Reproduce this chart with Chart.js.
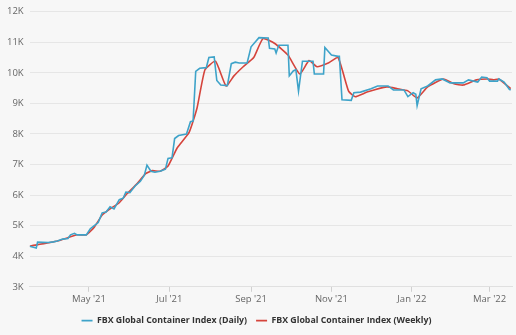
<!DOCTYPE html>
<html>
<head>
<meta charset="utf-8">
<script src="https://cdn.jsdelivr.net/npm/chart.js@4.4.1/dist/chart.umd.min.js"></script>
<style>
  html, body { margin: 0; padding: 0; background: #f7f7f7; }
  #wrap { width: 516px; height: 335px; }
</style>
</head>
<body>
<div id="wrap"><canvas id="chart"></canvas></div>
<script>
// daily index at each step change
const dailyDates = ['2021-03-17','2021-03-22','2021-03-23','2021-03-31','2021-04-04','2021-04-07','2021-04-11','2021-04-15','2021-04-17','2021-04-20','2021-04-22','2021-04-29',
  '2021-05-02','2021-05-05','2021-05-08','2021-05-11','2021-05-14','2021-05-17','2021-05-20','2021-05-24','2021-05-27','2021-05-29',
  '2021-06-01','2021-06-05','2021-06-09','2021-06-12','2021-06-14','2021-06-17','2021-06-20','2021-06-24','2021-06-28','2021-06-30',
  '2021-07-03','2021-07-05','2021-07-08','2021-07-14','2021-07-17','2021-07-19','2021-07-21','2021-07-24','2021-07-29','2021-07-31',
  '2021-08-04','2021-08-06','2021-08-09','2021-08-14','2021-08-17','2021-08-20','2021-08-23','2021-08-29',
  '2021-09-01','2021-09-04','2021-09-07','2021-09-14','2021-09-15','2021-09-19','2021-09-20','2021-09-22','2021-09-29','2021-09-30',
  '2021-10-03','2021-10-05','2021-10-07','2021-10-10','2021-10-18','2021-10-19','2021-10-26','2021-10-27',
  '2021-11-01','2021-11-06','2021-11-07','2021-11-09','2021-11-16','2021-11-18','2021-11-23',
  '2021-12-01','2021-12-06','2021-12-14','2021-12-18','2021-12-26','2021-12-29',
  '2022-01-02','2022-01-04','2022-01-05','2022-01-08','2022-01-13','2022-01-19','2022-01-24','2022-01-30',
  '2022-02-09','2022-02-13','2022-02-20','2022-02-23','2022-02-27',
  '2022-03-01','2022-03-07','2022-03-08','2022-03-12','2022-03-16','2022-03-17'];
const dailyValues = [4330,4270,4460,4450,4470,4500,4560,4580,4700,4750,4700,4700,
  4900,5000,5100,5420,5450,5620,5550,5850,5900,6100,
  6080,6300,6450,6650,6980,6780,6750,6780,6850,7200,
  7220,7850,7950,8000,8400,8420,10050,10150,10170,10500,
  10520,9750,9600,9580,10300,10350,10320,10320,
  10850,11000,11150,11140,10800,10780,10650,10900,10900,9900,
  10060,10100,9400,10380,10380,9960,9960,10830,
  10580,10540,10540,9120,9100,9350,9370,
  9480,9570,9570,9440,9440,9220,
  9350,9300,8930,9480,9570,9770,9800,9670,
  9670,9770,9700,9860,9840,
  9730,9730,9800,9700,9460,9440];

// weekly index
const weeklyDates = ['2021-03-17','2021-04-07','2021-04-22','2021-04-29','2021-05-05','2021-05-11','2021-05-17','2021-05-24','2021-05-30',
  '2021-06-06','2021-06-13','2021-06-18','2021-06-24','2021-06-30','2021-07-07','2021-07-16','2021-07-22','2021-07-28',
  '2021-08-05','2021-08-13','2021-08-19','2021-08-26','2021-09-03','2021-09-10','2021-09-19','2021-09-29',
  '2021-10-08','2021-10-15','2021-10-21','2021-10-30','2021-11-06','2021-11-14','2021-11-19','2021-11-28',
  '2021-12-13','2021-12-21','2021-12-29','2022-01-05','2022-01-13','2022-01-25','2022-02-02','2022-02-09',
  '2022-02-19','2022-02-27','2022-03-04','2022-03-08','2022-03-17'];
const weeklyValues = [4330,4500,4700,4700,4950,5350,5550,5750,6050,
  6350,6700,6800,6780,6950,7550,8050,8850,10100,
  10380,9570,9900,10200,10500,11120,10960,10580,
  9960,10400,10200,10330,10500,9400,9220,9370,
  9540,9480,9410,9180,9540,9800,9640,9600,
  9770,9800,9770,9800,9480];

const xTickDates = ['2021-05-01','2021-07-01','2021-09-01','2021-11-01','2022-01-01','2022-03-01'];
const xTickLabels = ["May '21","Jul '21","Sep '21","Nov '21","Jan '22","Mar '22"];
const yTicks = [3000,4000,5000,6000,7000,8000,9000,10000,11000,12000];

const seriesNames = ['FBX Global Container Index (Daily)','FBX Global Container Index (Weekly)'];

// days since 1 Jan 2021
function dayNum(s) {
  var p = s.split('-');
  return (Date.UTC(+p[0], +p[1]-1, +p[2]) - Date.UTC(2021,0,1)) / 86400000;
}
function toPoints(dates, values) {
  return dates.map(function(d, i){ return {x: dayNum(d), y: values[i]}; });
}

var tickPos = xTickDates.map(dayNum);

new Chart(document.getElementById('chart'), {
  type: 'line',
  data: {
    datasets: [
      {
        label: seriesNames[0],
        data: toPoints(dailyDates, dailyValues),
        borderColor: '#3ea3c9',
        backgroundColor: '#3ea3c9',
        borderWidth: 1.6,
        pointRadius: 0,
        pointStyle: 'line',
        tension: 0
      },
      {
        label: seriesNames[1],
        data: toPoints(weeklyDates, weeklyValues),
        borderColor: '#d5443c',
        backgroundColor: '#d5443c',
        borderWidth: 1.6,
        pointRadius: 0,
        pointStyle: 'line',
        tension: 0.15
      }
    ]
  },
  options: {
    responsive: true,
    maintainAspectRatio: false,
    animation: false,
    layout: { padding: { top: 2, right: 4, left: 1, bottom: 0 } },
    plugins: {
      tooltip: { enabled: false },
      legend: {
        position: 'bottom',
        labels: {
          usePointStyle: true,
          pointStyleWidth: 11,
          boxHeight: 2,
          padding: 9,
          color: '#333',
          font: { family: 'Open Sans', size: 8.8, weight: 'bold' }
        }
      }
    },
    scales: {
      x: {
        type: 'linear',
        min: dayNum('2021-03-17'),
        max: dayNum('2022-03-18'),
        afterBuildTicks: function(axis){ axis.ticks = tickPos.map(function(v){ return {value: v}; }); },
        ticks: {
          autoSkip: false,
          maxRotation: 0,
          padding: 2,
          color: '#666',
          font: { family: 'Open Sans', size: 9.5 },
          callback: function(v){ var i = tickPos.indexOf(v); return i >= 0 ? xTickLabels[i] : ''; }
        },
        grid: { drawOnChartArea: false, tickLength: 5, color: '#d0d0d0' },
        border: { color: '#e0e0e0' }
      },
      y: {
        min: 3000,
        max: 12000,
        afterBuildTicks: function(axis){ axis.ticks = yTicks.map(function(v){ return {value: v}; }); },
        ticks: {
          color: '#666',
          padding: 6,
          font: { family: 'Open Sans', size: 9.5 },
          callback: function(v){ return (v/1000) + 'K'; }
        },
        grid: { color: '#e6e6e6', drawTicks: false },
        border: { display: false }
      }
    }
  }
});
</script>
</body>
</html>
